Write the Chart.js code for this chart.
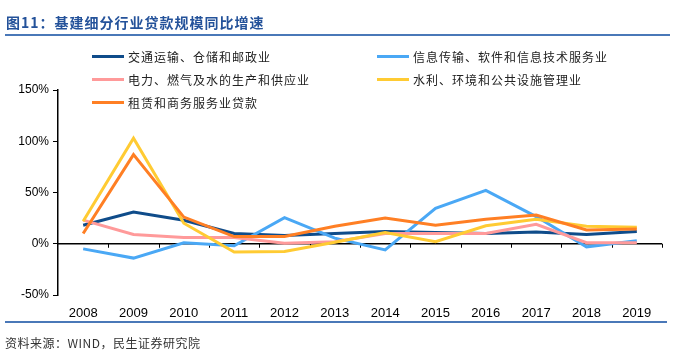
<!DOCTYPE html>
<html>
<head>
<meta charset="utf-8">
<script src="https://cdn.jsdelivr.net/npm/chart.js@4.4.1/dist/chart.umd.min.js"></script>
<style>
  html, body { margin: 0; padding: 0; background: #fff; }
  #wrap { position: relative; width: 680px; height: 354px; overflow: hidden; }
  #chart { position: absolute; left: 0; top: 0; }
  #title {
    position: absolute; left: 6px; top: 13px;
    font: bold 14px "Noto Sans CJK SC", sans-serif; color: #24529a;
    letter-spacing: 1px; line-height: 18px;
  }
  .rule { position: absolute; height: 1.5px; background: #4a78b8; }
  #source {
    position: absolute; left: 5px; top: 335px;
    font: 12px "Noto Sans CJK SC", sans-serif; color: #333; letter-spacing: 0.5px;
    line-height: 16px;
  }
  #legend {
    position: absolute; left: 92px; top: 45px;
    display: grid; grid-template-columns: 285px 285px; grid-auto-rows: 23px;
  }
  .item { display: flex; align-items: center; height: 23px; }
  .swatch { width: 32px; height: 3px; margin-right: 4px; }
  .label { font: 12px "Noto Sans CJK SC", sans-serif; color: #222; letter-spacing: 1px; white-space: nowrap; }
</style>
</head>
<body>
<div id="wrap">
  <canvas id="chart" width="680" height="354"></canvas>
  <div id="title">图11：基建细分行业贷款规模同比增速</div>
  <div class="rule" style="left:5px; width:665px; top:34px;"></div>
  <div id="legend"></div>
  <div class="rule" style="left:5px; width:662px; top:321px;"></div>
  <div id="source">资料来源：WIND，民生证券研究院</div>
</div>
<script>
const years = ["2008", "2009", "2010", "2011", "2012", "2013", "2014", "2015", "2016", "2017", "2018", "2019"];
const yTicks = [-50, 0, 50, 100, 150];

const seriesNames = [
  "交通运输、仓储和邮政业",
  "信息传输、软件和信息技术服务业",
  "电力、燃气及水的生产和供应业",
  "水利、环境和公共设施管理业",
  "租赁和商务服务业贷款"
];
const transport = [18, 31, 23, 10, 8, 10, 12, 11, 10, 11.5, 9, 12];
const infoTech = [-5, -14, 1, -2, 25.5, 5.5, -6, 34.5, 52, 26.5, -3, 3];
const power = [23, 9, 6, 6, 0.5, 2, 10, 10, 10, 19, 1, 1];
const water = [22, 103, 20, -8, -7.5, 1.5, 11, 2, 17.5, 24, 17, 16];
const leasing = [10, 87, 26, 7, 7, 17, 25, 18, 24, 28, 13.5, 14.5];

const colors = ["#0f4c8a", "#4aa8f5", "#ff9a9a", "#ffcb33", "#ff7f24"];
const seriesData = [transport, infoTech, power, water, leasing];

// zero line with tick marks between categories
const zeroAxis = {
  id: "zeroAxis",
  beforeDatasetsDraw(chart) {
    const ctx = chart.ctx;
    const x = chart.scales.x;
    const y = chart.scales.y;
    const y0 = y.getPixelForValue(0);
    ctx.save();
    ctx.strokeStyle = "#000";
    ctx.lineWidth = 1.5;
    ctx.beginPath();
    ctx.moveTo(chart.chartArea.left, y0);
    ctx.lineTo(chart.chartArea.right, y0);
    ctx.stroke();
    ctx.lineWidth = 1;
    ctx.beginPath();
    for (let i = 1; i <= years.length; i++) {
      const px = Math.round(x.getPixelForValue(i - 0.5)) + 0.5;
      ctx.moveTo(px, y0);
      ctx.lineTo(px, y0 + 4);
    }
    ctx.stroke();
    ctx.restore();
  }
};

const chart = new Chart(document.getElementById("chart"), {
  type: "line",
  data: {
    labels: years,
    datasets: seriesData.map(function (d, i) {
      return {
        label: seriesNames[i],
        data: d,
        borderColor: colors[i],
        backgroundColor: colors[i],
        borderWidth: 3,
        pointRadius: 0,
        tension: 0,
        order: seriesData.length - i
      };
    })
  },
  options: {
    responsive: false,
    animation: false,
    devicePixelRatio: 1,
    layout: { padding: { left: 0, right: 18, top: 90, bottom: 0 } },
    plugins: { legend: { display: false }, tooltip: { enabled: false } },
    scales: {
      x: {
        offset: true,
        grid: { display: false, drawTicks: false },
        border: { display: false },
        ticks: { color: "#000", padding: 11, maxRotation: 0, font: { family: "Liberation Sans", size: 13 } },
        afterFit: function (s) { s.height = 59; }
      },
      y: {
        min: -50,
        max: 150,
        afterBuildTicks: function (s) { s.ticks = yTicks.map(function (v) { return { value: v }; }); },
        grid: { drawOnChartArea: false, drawTicks: true, tickLength: 5, color: "#000" },
        border: { display: true, color: "#000", width: 1.5 },
        ticks: {
          color: "#000", padding: 4,
          font: { family: "Liberation Sans", size: 12 },
          callback: function (v) { return v + "%"; }
        },
        afterFit: function (s) { s.width = 58; }
      }
    }
  },
  plugins: [zeroAxis]
});

// legend in two columns
const legend = document.getElementById("legend");
chart.data.datasets.forEach(function (ds) {
  const item = document.createElement("div");
  item.className = "item";
  item.innerHTML = '<span class="swatch" style="background:' + ds.borderColor + '"></span>' +
    '<span class="label">' + ds.label + "</span>";
  legend.appendChild(item);
});
</script>
</body>
</html>
